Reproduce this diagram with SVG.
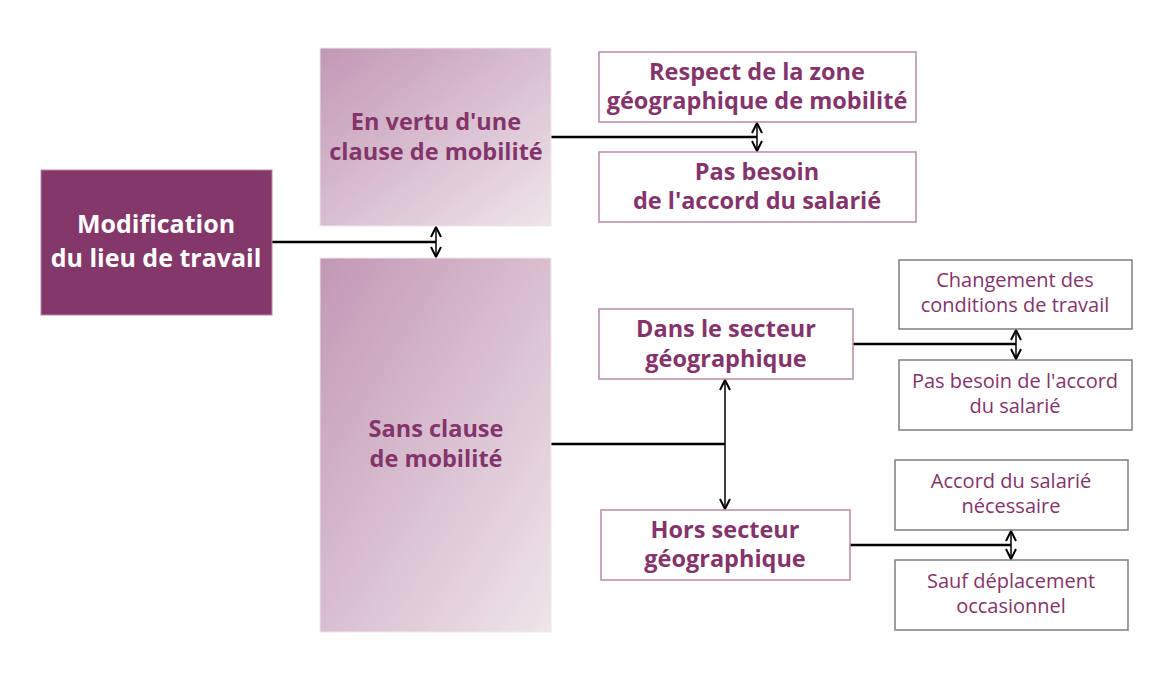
<svg xmlns="http://www.w3.org/2000/svg" width="1162" height="682" viewBox="0 0 1162 682">
<defs>
<linearGradient id="grad" x1="0" y1="0" x2="1" y2="1">
<stop offset="0" stop-color="#c298b5"/>
<stop offset="1" stop-color="#efe5eb"/>
</linearGradient>
<marker id="ah" viewBox="0 0 12 12" refX="11" refY="6" markerWidth="12" markerHeight="12" markerUnits="userSpaceOnUse" orient="auto-start-reverse">
<path d="M1,1 L11,6 L1,11" fill="none" stroke="#000" stroke-width="2"/>
</marker>
<style>
.main{fill:#843769;stroke:#b98aaa;stroke-width:1}
.grad{fill:url(#grad);stroke:#f0e6ec;stroke-width:1}
.pbox{fill:#fff;stroke:#b98aaa;stroke-width:1.5}
.gbox{fill:#fff;stroke:#7f7f7f;stroke-width:1.5}
text{font-family:"Open Sans",Lato,"Liberation Sans",sans-serif;text-anchor:middle;fill:#84346b}
.wt{fill:#fff;font-weight:bold;font-size:25px}
.bt{font-weight:bold;font-size:23.5px}
.rt{font-size:20px}
.ln{stroke:#000;stroke-width:2.5;fill:none}
.ar{stroke:#000;stroke-width:1.5;fill:none;marker-start:url(#ah);marker-end:url(#ah)}
</style>
</defs>
<g id="connectors">
<path class="ln" d="M272,242 H436"/>
<path class="ar" d="M436,227 V257"/>
<path class="ln" d="M551,137 H757"/>
<path class="ar" d="M757,123 V151"/>
<path class="ln" d="M551,444 H725"/>
<path class="ar" d="M725,380 V509"/>
<path class="ln" d="M853,344 H1016"/>
<path class="ar" d="M1016,330 V359"/>
<path class="ln" d="M850,545 H1011"/>
<path class="ar" d="M1011,531 V559"/>
</g>
<g id="n-main">
<rect class="main" x="41" y="170" width="231" height="145"/>
<text class="wt" x="156" y="233">Modification</text>
<text class="wt" x="156" y="267">du lieu de travail</text>
</g>
<g id="n-avec">
<rect class="grad" x="320" y="48" width="231" height="178"/>
<text class="bt" x="436" y="130">En vertu d'une</text>
<text class="bt" x="436" y="160">clause de mobilité</text>
</g>
<g id="n-sans">
<rect class="grad" x="320" y="258" width="231" height="374"/>
<text class="bt" x="436" y="437">Sans clause</text>
<text class="bt" x="436" y="467">de mobilité</text>
</g>
<g id="n-respect">
<rect class="pbox" x="599" y="52" width="317" height="70"/>
<text class="bt" x="757" y="80">Respect de la zone</text>
<text class="bt" x="757" y="109">géographique de mobilité</text>
</g>
<g id="n-pasbesoin1">
<rect class="pbox" x="599" y="152" width="317" height="70"/>
<text class="bt" x="757" y="180">Pas besoin</text>
<text class="bt" x="757" y="209">de l'accord du salarié</text>
</g>
<g id="n-dans">
<rect class="pbox" x="599" y="309" width="254" height="70"/>
<text class="bt" x="726" y="337">Dans le secteur</text>
<text class="bt" x="726" y="367">géographique</text>
</g>
<g id="n-hors">
<rect class="pbox" x="601" y="510" width="249" height="70"/>
<text class="bt" x="725" y="538">Hors secteur</text>
<text class="bt" x="725" y="567">géographique</text>
</g>
<g id="n-changement">
<rect class="gbox" x="899" y="260" width="233" height="69"/>
<text class="rt" x="1015" y="287">Changement des</text>
<text class="rt" x="1015" y="312">conditions de travail</text>
</g>
<g id="n-pasbesoin2">
<rect class="gbox" x="899" y="360" width="233" height="70"/>
<text class="rt" x="1015" y="388">Pas besoin de l'accord</text>
<text class="rt" x="1015" y="413">du salarié</text>
</g>
<g id="n-accord">
<rect class="gbox" x="895" y="460" width="233" height="70"/>
<text class="rt" x="1011" y="488">Accord du salarié</text>
<text class="rt" x="1011" y="513">nécessaire</text>
</g>
<g id="n-sauf">
<rect class="gbox" x="895" y="560" width="233" height="70"/>
<text class="rt" x="1011" y="588">Sauf déplacement</text>
<text class="rt" x="1011" y="613">occasionnel</text>
</g>
</svg>
